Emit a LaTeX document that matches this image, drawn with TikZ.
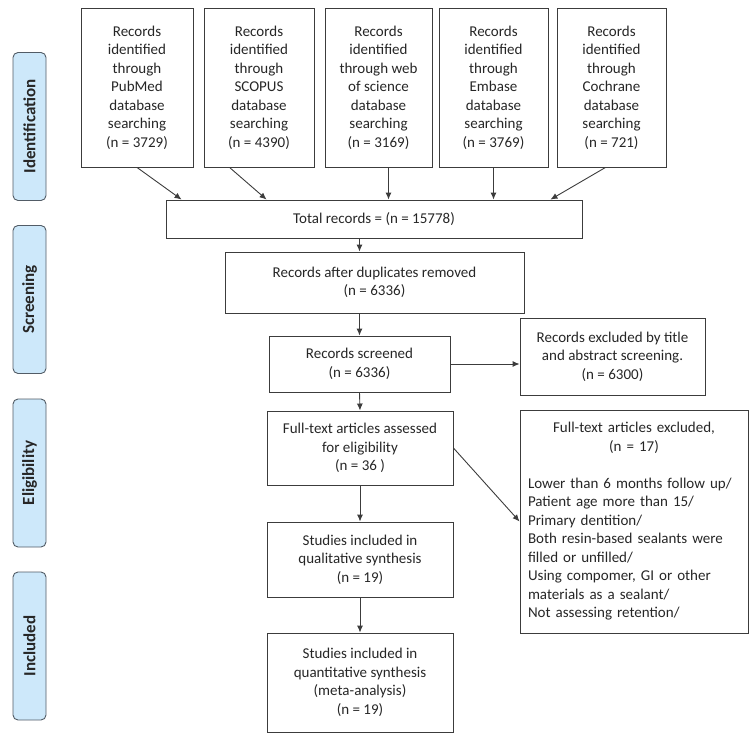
\documentclass[tikz,border=0pt]{standalone}
\usepackage{fontspec}
\setmainfont{Carlito}
\usetikzlibrary{arrows.meta}
\definecolor{linegray}{HTML}{3C3C3C}
\definecolor{stagefill}{HTML}{CDE8FA}
\definecolor{stageline}{HTML}{525C66}
\begin{document}
\begin{tikzpicture}[x=1pt,y=-1pt,font=\fontsize{15}{18.5}\selectfont]
\useasboundingbox (0,0) rectangle (751,741);

% stage labels on the left
\begin{scope}[every node/.style={draw=stageline,fill=stagefill,line width=0.9pt,rounded corners=5pt,rotate=90,minimum width=148pt,minimum height=33pt,inner sep=0pt,font=\fontsize{17}{19}\selectfont\bfseries,text=black!85}]
	\node (ident) at (29.5,126.5) {Identification};
	\node (screen) at (29.5,299.5) {Screening};
	\node (elig) at (29.5,473) {Eligibility};
	\node (incl) at (29.5,646) {Included};
\end{scope}

% flow boxes
\begin{scope}[every node/.style={draw=linegray,line width=0.9pt,align=center,inner sep=3pt,text=black!85}]
	\node[minimum width=112pt,minimum height=159pt] (pubmed) at (137,87.5) {Records\\identified\\through\\PubMed\\database\\searching\\(n = 3729)};
	\node[minimum width=110pt,minimum height=159pt] (scopus) at (259,87.5) {Records\\identified\\through\\SCOPUS\\database\\searching\\(n = 4390)};
	\node[minimum width=107pt,minimum height=159pt] (wos) at (378.5,87.5) {Records\\identified\\through web\\of science\\database\\searching\\(n = 3169)};
	\node[minimum width=109pt,minimum height=159pt] (embase) at (493.5,87.5) {Records\\identified\\through\\Embase\\database\\searching\\(n = 3769)};
	\node[minimum width=109pt,minimum height=159pt] (cochrane) at (611.5,87.5) {Records\\identified\\through\\Cochrane\\database\\searching\\(n = 721)};

	\node[minimum width=416pt,minimum height=38pt] (total) at (374,219) {Total records = (n = 15778)};
	\node[minimum width=299pt,minimum height=61pt] (dup) at (374.5,282.5) {Records after duplicates removed\\(n = 6336)};
	\node[minimum width=181pt,minimum height=56pt] (screened) at (359.5,364) {Records screened\\(n = 6336)};
	\node[minimum width=185pt,minimum height=77pt] (excl1) at (612.5,356.5) {Records excluded by title\\and abstract screening.\\(n = 6300)};
	\node[minimum width=186pt,minimum height=74pt] (fulltext) at (360,448) {Full-text articles assessed\\for eligibility\\(n = 36 )};
	\node[minimum width=228pt,minimum height=223pt,text width=212pt,align=left,inner sep=8pt] (excl2) at (634,521.5) {\makebox[\linewidth][c]{Full-text articles excluded,}\\\makebox[\linewidth][c]{(n = 17)}\\[18.5pt]Lower than 6 months follow up/\\Patient age more than 15/\\Primary dentition/\\Both resin-based sealants were\\filled or unfilled/\\Using compomer, GI or other\\materials as a sealant/\\Not assessing retention/};
	\node[minimum width=186pt,minimum height=75pt] (qual) at (360,559.5) {Studies included in\\qualitative synthesis\\(n = 19)};
	\node[minimum width=186pt,minimum height=99pt] (quant) at (360,682.5) {Studies included in\\quantitative synthesis\\(meta-analysis)\\(n = 19)};
\end{scope}

% connectors
\begin{scope}[every edge/.style={draw=linegray,line width=0.9pt}]
	\path [-{Latex[length=7pt,width=6pt]}] (pubmed.south) edge ([xshift=16pt]total.north west);
	\path [-{Latex[length=7pt,width=6pt]}] ([xshift=26pt]scopus.south west) edge ([xshift=101pt]total.north west);
	\path [-{Latex[length=7pt,width=6pt]}] ([xshift=10pt]wos.south) edge ([xshift=10pt]wos.south |- total.north);
	\path [-{Latex[length=7pt,width=6pt]}] (embase.south) edge (embase.south |- total.north);
	\path [-{Latex[length=7pt,width=6pt]}] ([xshift=-6pt]cochrane.south) edge ([xshift=-32pt]total.north east);
	\path [-{Latex[length=7pt,width=6pt]}] (total.south -| screened) edge (dup.north -| screened);
	\path [-{Latex[length=7pt,width=6pt]}] (dup.south -| screened) edge (screened.north);
	\path [-{Latex[length=7pt,width=6pt]}] (screened.east) edge (excl1.west |- screened.east);
	\path [-{Latex[length=7pt,width=6pt]}] (screened.south) edge (fulltext.north);
	\path [-{Latex[length=7pt,width=6pt]}] (fulltext.east) edge (excl2.west);
	\path [-{Latex[length=7pt,width=6pt]}] (fulltext.south) edge (qual.north);
	\path [-{Latex[length=7pt,width=6pt]}] (qual.south) edge (quant.north);
\end{scope}
\end{tikzpicture}
\end{document}
